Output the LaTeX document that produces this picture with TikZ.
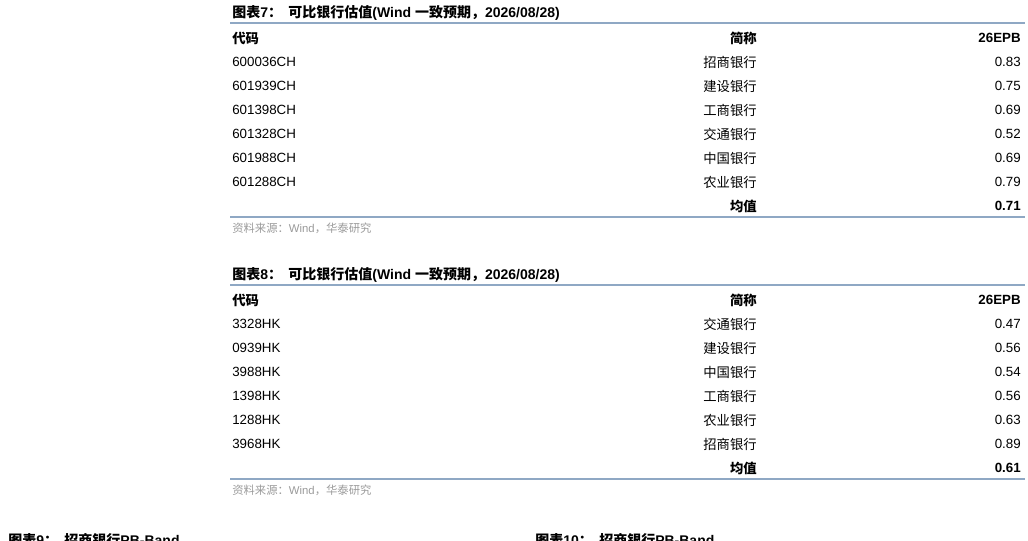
\documentclass[tikz,border=0pt]{standalone}
\usepackage{fontspec}
\setmainfont{Liberation Sans}
\newfontfamily\cjk{Noto Sans CJK SC}
\newcommand{\zh}[1]{{\cjk #1}}
\definecolor{rule}{HTML}{8FA8C4}
\definecolor{src}{HTML}{9A9A9A}
\begin{document}
\begin{tikzpicture}[x=0.75pt,y=-0.75pt,
  txt/.style={inner sep=0pt,font=\fontsize{10}{12}\selectfont},
  ttl/.style={inner sep=0pt,font=\fontsize{10.5}{12}\selectfont\bfseries,anchor=west},
  lft/.style={txt,anchor=west},
  rgt/.style={txt,anchor=east},
  srcs/.style={inner sep=0pt,font=\fontsize{8.5}{10}\selectfont,text=src,anchor=west},
  hl/.style={draw=rule,line width=0.8pt}]
\useasboundingbox (0,0) rectangle (1028,541);
\begin{scope}
\clip (0,0) rectangle (1028,541);
% Table 7
\node[ttl] (t7) at (232,13) {\zh{图表}7\zh{：\ \ 可比银行估值}(Wind \zh{一致预期，}2026/08/28)};
\coordinate (a1) at (230,23); \coordinate (a2) at (1025,23);
\draw[hl] (a1) -- (a2);
\node[lft] (h7a) at (232,38) {\zh{\bfseries 代码}};
\node[rgt] (h7b) at (757,38) {\zh{\bfseries 简称}};
\node[rgt,font=\fontsize{10}{12}\selectfont\bfseries] (h7c) at (1021,38) {26EPB};
\foreach \c/\n/\v [count=\i] in {600036CH/招商银行/0.83,601939CH/建设银行/0.75,601398CH/工商银行/0.69,601328CH/交通银行/0.52,601988CH/中国银行/0.69,601288CH/农业银行/0.79}{
  \node[lft] (r7a\i) at (232,38+24*\i) {\c};
  \node[rgt] (r7b\i) at (757,38+24*\i) {\zh{\n}};
  \node[rgt] (r7c\i) at (1021,38+24*\i) {\v};
}
\node[rgt] (m7b) at (757,206) {\zh{\bfseries 均值}};
\node[rgt,font=\fontsize{10}{12}\selectfont\bfseries] (m7c) at (1021,206) {0.71};
\coordinate (b1) at (230,217); \coordinate (b2) at (1025,217);
\draw[hl] (b1) -- (b2);
\node[srcs] (s7) at (232,228) {\zh{资料来源：}Wind\zh{，华泰研究}};
% Table 8
\node[ttl] (t8) at (232,275) {\zh{图表}8\zh{：\ \ 可比银行估值}(Wind \zh{一致预期，}2026/08/28)};
\coordinate (c1) at (230,285); \coordinate (c2) at (1025,285);
\draw[hl] (c1) -- (c2);
\node[lft] (h8a) at (232,300) {\zh{\bfseries 代码}};
\node[rgt] (h8b) at (757,300) {\zh{\bfseries 简称}};
\node[rgt,font=\fontsize{10}{12}\selectfont\bfseries] (h8c) at (1021,300) {26EPB};
\foreach \c/\n/\v [count=\i] in {3328HK/交通银行/0.47,0939HK/建设银行/0.56,3988HK/中国银行/0.54,1398HK/工商银行/0.56,1288HK/农业银行/0.63,3968HK/招商银行/0.89}{
  \node[lft] (r8a\i) at (232,300+24*\i) {\c};
  \node[rgt] (r8b\i) at (757,300+24*\i) {\zh{\n}};
  \node[rgt] (r8c\i) at (1021,300+24*\i) {\v};
}
\node[rgt] (m8b) at (757,468) {\zh{\bfseries 均值}};
\node[rgt,font=\fontsize{10}{12}\selectfont\bfseries] (m8c) at (1021,468) {0.61};
\coordinate (d1) at (230,479); \coordinate (d2) at (1025,479);
\draw[hl] (d1) -- (d2);
\node[srcs] (s8) at (232,490) {\zh{资料来源：}Wind\zh{，华泰研究}};
% cut-off captions
\node[ttl] (t9) at (8,540) {\zh{图表}9\zh{：\ \ 招商银行}PB-Band};
\node[ttl] (t10) at (535,540) {\zh{图表}10\zh{：\ \ 招商银行}PB-Band};
\end{scope}
\end{tikzpicture}
\end{document}
